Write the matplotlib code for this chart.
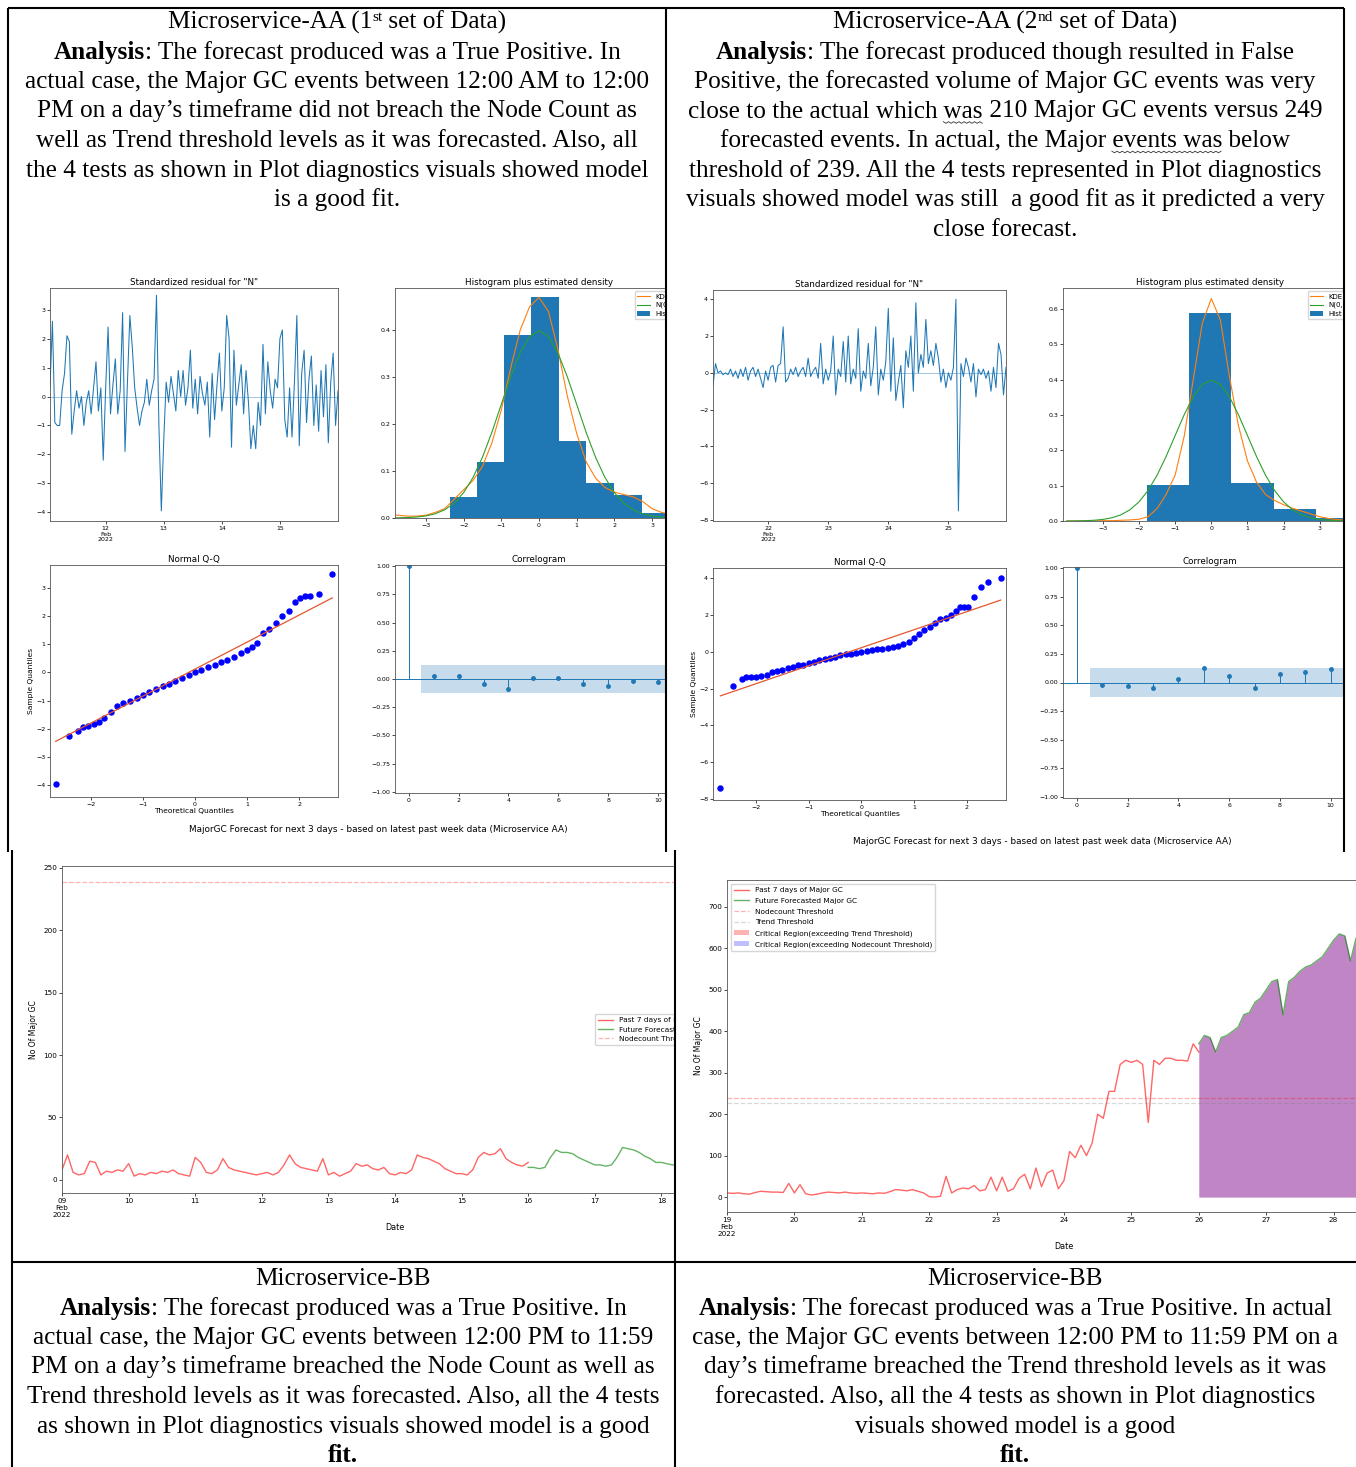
import matplotlib
matplotlib.use("Agg")
import matplotlib.pyplot as plt
import matplotlib.dates as mdates
from matplotlib.patches import Rectangle
import pandas as pd

W, H = 1356, 1467
SERIF = "Liberation Serif"
TXT = 18.2
plt.rcParams.update({"font.size": 5, "axes.linewidth": 0.6, "axes.edgecolor": "#555",
                     "xtick.major.size": 2, "ytick.major.size": 2,
                     "xtick.major.width": 0.5, "ytick.major.width": 0.5,
                     "xtick.labelsize": 4.5, "ytick.labelsize": 4.5,
                     "xtick.major.pad": 1.5, "ytick.major.pad": 1.5})

# ---------------- data ----------------
# standardized residuals, hourly
res1_start = "2022-02-11 01:00"
res1 = [0.3, 2.6, -0.9, -1.0, -1.0, 0.2, 0.8, 2.1, 1.9, -1.3, -0.5, 0.2, -0.4, 0.0, -1.0, -0.2,
        0.2, -0.6, 0.3, 1.2, -0.5, 0.3, -2.2, 0.3, 2.4, -0.6, 0.4, 1.3, -0.6, 0.2, 2.9, -1.9,
        0.5, 2.8, 1.7, 0.3, -0.4, -1.0, -0.5, -0.2, 0.6, -0.3, 0.2, 0.6, 3.5, -1.0, -3.95, -1.5,
        0.5, -0.2, 0.7, 0.1, -0.5, 0.9, 0.0, 0.9, -0.3, 0.3, 1.6, -0.4, 0.6, -0.6, 0.7, 0.1,
        -0.3, 0.5, -1.4, 0.8, -0.8, 0.4, 1.5, -0.5, 0.3, 2.8, 2.0, -1.75, 1.6, -0.3, 0.4, 1.1,
        -0.6, 0.9, -0.2, -1.8, -1.0, -1.8, -0.2, -1.0, 1.8, -0.6, 1.2, 0.2, -0.4, 0.6, 0.3, 2.0,
        2.3, -0.8, -1.4, 0.3, -1.4, 0.5, 2.8, -1.7, 0.8, 1.6, -0.9, 0.6, 1.4, -1.0, 0.4, -1.2,
        0.9, -0.7, 1.1, -1.6, 0.5, 1.5, -1.0, 0.2]
res2_start = "2022-02-21 02:00"
res2 = [-0.7, 0.5, 0.0, 0.1, -0.1, 0.0, -0.1, 0.2, -0.2, 0.1, -0.3, 0.2, -0.2, 0.3, -0.4, 0.1,
        0.3, -0.2, 0.2, -0.3, -0.8, 0.1, -0.4, 0.3, 0.4, -0.5, 0.4, 0.5, 2.5, -0.5, -0.3, 0.2,
        -0.1, 0.3, -0.2, 0.1, 0.3, -0.2, 0.8, -0.2, 0.1, 0.3, -0.3, 1.6, -0.6, 0.2, -0.4, 0.1,
        2.0, -1.2, 0.2, -0.2, 1.7, -0.5, 2.0, -0.6, 0.2, -0.3, 2.4, -1.0, 0.1, -0.3, 1.6, -0.7,
        0.3, 2.5, -1.2, 0.2, -0.4, 0.6, 3.5, -1.0, 1.9, -1.5, -0.5, 0.4, -1.9, 1.2, 0.3, 2.0,
        -1.0, 3.8, 0.0, 1.0, 0.3, 2.9, 0.5, 1.2, 0.4, 1.6, 0.8, -0.5, 0.2, -0.8, 0.0, -0.4,
        0.3, 4.0, -7.5, 0.5, -0.2, 0.8, 0.3, -0.5, 0.5, -1.3, 0.2, -0.1, 0.2, -0.3, 0.1, -1.0,
        0.3, -0.8, 1.6, 1.0, -1.2, 0.3]

# histogram bins (edges) and densities
hist1_edges = [-2.37, -1.65, -0.93, -0.2, 0.53, 1.25, 1.99, 2.72, 3.45]
hist1_dens = [0.045, 0.12, 0.39, 0.47, 0.165, 0.075, 0.05, 0.01]
hist2_edges = [-1.77, -0.62, 0.55, 1.72, 2.9, 4.07]
hist2_dens = [0.103, 0.59, 0.108, 0.035, 0.008]

dens_x = [-4.0, -3.75, -3.5, -3.25, -3.0, -2.75, -2.5, -2.25, -2.0, -1.75, -1.5, -1.25, -1.0,
          -0.75, -0.5, -0.25, 0.0, 0.25, 0.5, 0.75, 1.0, 1.25, 1.5, 1.75, 2.0, 2.25, 2.5, 2.75,
          3.0, 3.25, 3.5, 3.75, 4.0]
norm_y = [0.0001, 0.0004, 0.0009, 0.0020, 0.0044, 0.0091, 0.0175, 0.0317, 0.0540, 0.0863,
          0.1295, 0.1826, 0.2420, 0.3011, 0.3521, 0.3867, 0.3989, 0.3867, 0.3521, 0.3011,
          0.2420, 0.1826, 0.1295, 0.0863, 0.0540, 0.0317, 0.0175, 0.0091, 0.0044, 0.0020,
          0.0009, 0.0004, 0.0001]
kde1_y = [0.006, 0.006, 0.004, 0.004, 0.006, 0.012, 0.02, 0.04, 0.06, 0.08, 0.11, 0.16, 0.23,
          0.32, 0.40, 0.45, 0.47, 0.44, 0.36, 0.26, 0.18, 0.12, 0.085, 0.065, 0.055, 0.05,
          0.045, 0.035, 0.02, 0.012, 0.008, 0.004, 0.002]
kde2_y = [0.0, 0.0, 0.0, 0.0, 0.001, 0.001, 0.002, 0.003, 0.005, 0.012, 0.035, 0.075, 0.13,
          0.24, 0.40, 0.56, 0.63, 0.57, 0.41, 0.27, 0.17, 0.11, 0.075, 0.058, 0.046, 0.036,
          0.028, 0.02, 0.012, 0.007, 0.004, 0.002, 0.001]

# normal Q-Q (theoretical, sample)
qq1_x = [-2.68, -2.42, -2.26, -2.15, -2.05, -1.95, -1.85, -1.75, -1.62, -1.5, -1.38, -1.25,
         -1.12, -1.0, -0.88, -0.75, -0.62, -0.5, -0.38, -0.25, -0.12, 0.0, 0.12, 0.25, 0.38,
         0.5, 0.62, 0.75, 0.88, 1.0, 1.1, 1.2, 1.3, 1.42, 1.55, 1.68, 1.8, 1.92, 2.02, 2.12,
         2.22, 2.38, 2.64]
qq1_y = [-3.95, -2.25, -2.1, -1.95, -1.9, -1.82, -1.75, -1.62, -1.42, -1.2, -1.1, -1.0, -0.9,
         -0.8, -0.7, -0.6, -0.5, -0.4, -0.3, -0.2, -0.1, 0.0, 0.08, 0.18, 0.28, 0.38, 0.45,
         0.55, 0.68, 0.8, 0.9, 1.05, 1.4, 1.55, 1.75, 2.0, 2.2, 2.5, 2.65, 2.7, 2.72, 2.8, 3.5]
qq1_line = ([-2.68, 2.64], [-2.45, 2.65])
qq2_x = [-2.68, -2.44, -2.27, -2.2, -2.1, -2.0, -1.9, -1.8, -1.7, -1.6, -1.5, -1.4, -1.3, -1.2,
         -1.1, -1.0, -0.9, -0.8, -0.7, -0.6, -0.5, -0.4, -0.3, -0.2, -0.1, 0.0, 0.1, 0.2, 0.3,
         0.4, 0.5, 0.6, 0.7, 0.8, 0.9, 1.0, 1.1, 1.2, 1.3, 1.4, 1.5, 1.6, 1.7, 1.8, 1.88, 1.95,
         2.02, 2.14, 2.28, 2.4, 2.65]
qq2_y = [-7.42, -1.86, -1.5, -1.4, -1.38, -1.35, -1.3, -1.25, -1.1, -1.05, -1.0, -0.9, -0.85,
         -0.75, -0.7, -0.62, -0.55, -0.45, -0.4, -0.33, -0.27, -0.2, -0.15, -0.12, -0.05, 0.0,
         0.03, 0.08, 0.12, 0.17, 0.2, 0.25, 0.3, 0.4, 0.55, 0.75, 0.95, 1.15, 1.35, 1.55, 1.75,
         1.85, 2.0, 2.2, 2.4, 2.45, 2.45, 2.95, 3.5, 3.8, 4.0]
qq2_line = ([-2.68, 2.65], [-2.4, 2.8])

# correlogram
lags = list(range(11))
acf1 = [1.0, 0.03, 0.03, -0.04, -0.09, 0.01, 0.01, -0.04, -0.06, -0.02, -0.03]
acf2 = [1.0, -0.02, -0.03, -0.05, 0.03, 0.13, 0.06, -0.05, 0.07, 0.09, 0.12]
conf1, conf2 = 0.12, 0.13

# Microservice-BB Major GC counts, 2-hourly
bb1_past_start, bb1_fc_start = "2022-02-09 00:00", "2022-02-16 00:00"
bb1_past = [8, 20, 6, 4, 5, 15, 14, 4, 7, 6, 8, 7,
            13, 3, 5, 4, 6, 5, 7, 6, 8, 5, 4, 3,
            18, 14, 6, 5, 8, 17, 10, 8, 7, 6, 5, 4,
            5, 6, 4, 6, 12, 20, 13, 10, 9, 8, 7, 17,
            4, 6, 3, 5, 7, 13, 11, 12, 9, 8, 10, 5,
            4, 6, 5, 8, 20, 18, 17, 15, 13, 9, 7, 5,
            5, 4, 8, 18, 22, 20, 21, 25, 17, 14, 12, 11, 14]
bb1_fc = [10, 10, 9, 10, 18, 24, 22, 22, 21, 18, 16, 14,
          12, 12, 11, 12, 18, 26, 25, 24, 22, 19, 17, 14,
          14, 13, 12, 12, 18, 24, 23, 22, 20, 17, 15, 13, 12]
bb1_node = 239

bb2_past_start, bb2_fc_start = "2022-02-19 00:00", "2022-02-26 00:00"
bb2_past = [10, 9, 10, 8, 7, 11, 14, 13, 12, 12, 11, 33,
            10, 30, 8, 5, 7, 10, 12, 11, 10, 12, 10, 9,
            10, 9, 8, 10, 9, 13, 18, 17, 15, 18, 14, 10,
            1, 0, 2, 50, 10, 18, 22, 20, 28, 15, 18, 48,
            15, 48, 14, 20, 45, 55, 20, 70, 25, 58, 65, 20,
            40, 110, 95, 125, 100, 130, 200, 190, 255, 255, 320, 330,
            325, 330, 320, 180, 330, 320, 335, 335, 330, 330, 328, 370, 350]
bb2_fc = [370, 390, 385, 350, 385, 390, 400, 410, 440, 445, 470, 480,
          500, 520, 525, 440, 520, 530, 545, 555, 560, 570, 580, 600,
          620, 635, 630, 570, 625, 630, 640, 650, 655, 660, 665, 670, 675]
bb2_node, bb2_trend = 239, 228

CAPTION = "MajorGC Forecast for next 3 days - based on latest past week data (Microservice AA)"

fig = plt.figure(figsize=(W / 100, H / 100), dpi=100)


def pax(l, t, r, b, z):
    ax = fig.add_axes([l / W, 1 - b / H, (r - l) / W, (b - t) / H])
    ax.set_zorder(z)
    return ax


def cover(l, t, r, b, z):
    fig.add_artist(Rectangle((l / W, 1 - b / H), (r - l) / W, (b - t) / H,
                             transform=fig.transFigure, fc="white", ec="none", zorder=z))


def hours(start, n, step="h"):
    return mdates.date2num(pd.date_range(start, periods=n, freq=step).to_pydatetime())


def day_ticks(ax, days, month="Feb"):
    ax.set_xticks([mdates.datestr2num(f"2022-02-{d:02d}") for d in days])
    ax.set_xticklabels([f"{days[0]:02d}\n{month}\n2022"] + [f"{d:02d}" for d in days[1:]])


def resid(box, start, vals, days, ylim, yt):
    ax = pax(*box)
    x = hours(start, len(vals))
    ax.plot(x, vals, color="C0", lw=0.75)
    ax.hlines(0, x[0], x[-1], color="C0", alpha=0.5, lw=0.6)
    ax.set_xlim(x[0], x[-1])
    ax.set_ylim(*ylim); ax.set_yticks(yt)
    day_ticks(ax, days)
    ax.set_title('Standardized residual for "N"', fontsize=6.3, pad=2)


def hist(box, edges, dens, kde, xlim, ylim, yt):
    ax = pax(*box)
    ax.bar(edges[:-1], dens, width=[b - a for a, b in zip(edges[:-1], edges[1:])],
           align="edge", color="C0", label="Hist")
    ax.plot(dens_x, kde, color="C1", lw=0.8, label="KDE")
    ax.plot(dens_x, norm_y, color="C2", lw=0.8, label="N(0,1)")
    ax.set_xlim(*xlim); ax.set_ylim(*ylim); ax.set_yticks(yt)
    ax.set_xticks([-3, -2, -1, 0, 1, 2, 3])
    ax.legend(loc="upper right", fontsize=5, handlelength=1.8, borderpad=0.35,
              labelspacing=0.3)
    ax.set_title("Histogram plus estimated density", fontsize=6.3, pad=2)


def qq(box, xs, ys, line, xlim, ylim, yt):
    ax = pax(*box)
    ax.plot(xs, ys, "o", color="blue", ms=3.6)
    ax.plot(*line, color="#e4572e", lw=0.9)
    ax.set_xlim(*xlim); ax.set_ylim(*ylim); ax.set_yticks(yt)
    ax.set_xticks([-2, -1, 0, 1, 2])
    ax.set_xlabel("Theoretical Quantiles", fontsize=5.4, labelpad=1)
    ax.set_ylabel("Sample Quantiles", fontsize=5.4, labelpad=1)
    ax.set_title("Normal Q-Q", fontsize=6.3, pad=2)


def correlogram(box, vals, conf):
    ax = pax(*box)
    ax.fill_between([0.5, 11.5], -conf, conf, color="C0", alpha=0.25, lw=0)
    ax.axhline(0, color="C0", lw=0.7)
    ax.vlines(lags, 0, vals, color="C0", lw=0.7)
    ax.plot(lags, vals, "o", color="C0", ms=2.5)
    ax.set_xlim(-0.55, 11); ax.set_ylim(-1.01, 1.01)
    ax.set_yticks([-1, -0.75, -0.5, -0.25, 0, 0.25, 0.5, 0.75, 1.0])
    ax.set_yticklabels(["\u22121.00", "\u22120.75", "\u22120.50", "\u22120.25", "0.00",
                        "0.25", "0.50", "0.75", "1.00"])
    ax.set_xticks([0, 2, 4, 6, 8, 10])
    ax.set_title("Correlogram", fontsize=6.3, pad=2)


# ---- top-left: Microservice-AA 1st set (drawn first, overflow hidden by cover) ----
resid((50, 288, 338, 521, 1), res1_start, res1, [12, 13, 14, 15], (-4.3, 3.75), range(-4, 4))
hist((395, 288, 683, 518, 1), hist1_edges, hist1_dens, kde1_y, (-3.82, 3.82), (0, 0.49),
     [0, 0.1, 0.2, 0.3, 0.4])
qq((50, 565, 338, 797, 1), qq1_x, qq1_y, qq1_line, (-2.79, 2.75), (-4.43, 3.82), range(-4, 4))
correlogram((395, 565, 683, 793, 1), acf1, conf1)
cover(667, 0, 1356, 850, 2)

# ---- top-right: Microservice-AA 2nd set ----
resid((713, 290, 1006, 521, 3), res2_start, res2, [22, 23, 24, 25], (-8.05, 4.5),
      [-8, -6, -4, -2, 0, 2, 4])
hist((1063, 288, 1356, 521, 3), hist2_edges, hist2_dens, kde2_y, (-4.1, 4.0), (0, 0.66),
     [0, 0.1, 0.2, 0.3, 0.4, 0.5, 0.6])
qq((713, 568, 1006, 800, 3), qq2_x, qq2_y, qq2_line, (-2.82, 2.75), (-8.05, 4.54),
   [-8, -6, -4, -2, 0, 2, 4])
correlogram((1063, 567, 1356, 798, 3), acf2, conf2)
cover(1345, 0, 1356, 852, 4)


# ---- bottom: Microservice-BB forecasts ----
def forecast(box, past_start, past, fc_start, fc, node, trend, days, ylim, yt, legend_loc,
             spacing, clip=None):
    ax = pax(*box)
    xp = hours(past_start, len(past), "2h")
    xf = hours(fc_start, len(fc), "2h")
    ax.plot(xp, past, color="red", alpha=0.6, lw=1.0, label="Past 7 days of Major GC")
    ax.plot(xf, fc, color="green", alpha=0.6, lw=1.0, label="Future Forecasted Major GC")
    ax.axhline(node, color="red", ls="--", alpha=0.3, lw=0.9, label="Nodecount Threshold")
    if trend is not None:
        ax.axhline(trend, color="gray", ls="--", alpha=0.3, lw=0.9, label="Trend Threshold")
        above_t = [v > trend for v in fc]
        above_n = [v > node for v in fc]
        ax.fill_between(xf, 0, fc, where=above_t, color="red", alpha=0.3, lw=0,
                        label="Critical Region(exceeding Trend Threshold)")
        ax.fill_between(xf, 0, fc, where=above_n, color="blue", alpha=0.25, lw=0,
                        label="Critical Region(exceeding Nodecount Threshold)")
    ax.set_xlim(xp[0], xf[-1])
    ax.set_ylim(*ylim); ax.set_yticks(yt)
    day_ticks(ax, days)
    ax.tick_params(labelsize=5.2)
    ax.set_xlabel("Date", fontsize=5.8)
    ax.set_ylabel("No Of Major GC", fontsize=5.5)
    leg = ax.legend(loc=legend_loc, fontsize=5.3, handlelength=2, borderpad=0.45,
                    labelspacing=spacing)
    if clip is not None:
        # the screenshot is cut at the cell edge: clip the legend there
        l, t, r, b = clip
        box_clip = Rectangle((l / W, 1 - b / H), (r - l) / W, (b - t) / H,
                             transform=fig.transFigure)
        leg.set_clip_path(box_clip)
        for a in [leg.legendPatch] + leg.get_texts() + leg.get_lines():
            a.set_clip_path(box_clip)
    return ax


forecast((62, 866, 728, 1193, 1), bb1_past_start, bb1_past, bb1_fc_start, bb1_fc, bb1_node,
         None, list(range(9, 19)), (-10.5, 251.5), [0, 50, 100, 150, 200, 250], "center right",
         0.45, clip=(12, 852, 675, 1262))
cover(676, 852, 1356, 1262, 2)
forecast((727, 880, 1401, 1212, 3), bb2_past_start, bb2_past, bb2_fc_start, bb2_fc, bb2_node,
         bb2_trend, list(range(19, 29)), (-36, 765), [0, 100, 200, 300, 400, 500, 600, 700],
         "upper left", 0.62)

# ---- overlay: table borders and document text ----
ov = fig.add_axes([0, 0, 1, 1])
ov.set_zorder(20)
ov.set_xlim(0, W); ov.set_ylim(H, 0); ov.axis("off")
for x0, y0, x1, y1 in [(8, 8, 1344, 8), (8, 8, 8, 852), (666, 8, 666, 852),
                       (1344, 8, 1344, 852), (12, 850, 12, H), (675, 850, 675, H),
                       (12, 1262, W, 1262)]:
    ov.plot([x0, x1], [y0, y1], color="black", lw=1.5, clip_on=False, solid_capstyle="butt")

ov.text(378, 829, CAPTION, ha="center", va="center", fontsize=6.4)
ov.text(1042, 841, CAPTION, ha="center", va="center", fontsize=6.4)

renderer = fig.canvas.get_renderer()


def rich(xc, yc, parts):
    ts = []
    for s, kw in parts:
        t = ov.text(0, yc + 7 + kw.get("dy", 0), s, ha="left", va="baseline", family=SERIF,
                    fontsize=kw.get("size", TXT), weight=kw.get("weight", "normal"))
        ts.append(t)
    widths = [t.get_window_extent(renderer).width for t in ts]
    x = xc - sum(widths) / 2
    for t, w, (s, kw) in zip(ts, widths, parts):
        t.set_x(x)
        if kw.get("wavy"):
            # spell-check squiggle under the word (skip the leading space)
            xs, ys, k, xx = [], [], 0, x + 6
            while xx <= x + w:
                xs.append(xx); ys.append(yc + 11.5 + (1.3 if k % 2 else -0.3))
                xx += 2.6; k += 1
            ov.plot(xs, ys, color="#333", lw=0.6)
        x += w


B = {"weight": "bold"}
N = {}
WV = {"wavy": True}
SUP = {"size": 11, "dy": -8}


def block(xc, y0, lines):
    for i, parts in enumerate(lines):
        rich(xc, y0 + i * 29.5, parts)


block(337, 22, [
    [("Microservice-AA (1", N), ("st", SUP), (" set of Data)", N)],
    [("Analysis", B), (": The forecast produced was a True Positive. In", N)],
    [("actual case, the Major GC events between 12:00 AM to 12:00", N)],
    [("PM on a day\u2019s timeframe did not breach the Node Count as", N)],
    [("well as Trend threshold levels as it was forecasted. Also, all", N)],
    [("the 4 tests as shown in Plot diagnostics visuals showed model", N)],
    [("is a good fit.", N)],
])
block(1005, 22, [
    [("Microservice-AA (2", N), ("nd", SUP), (" set of Data)", N)],
    [("Analysis", B), (": The forecast produced though resulted in False", N)],
    [("Positive, the forecasted volume of Major GC events was very", N)],
    [("close to the actual which", N), (" was", WV), (" 210 Major GC events versus 249", N)],
    [("forecasted events. In actual, the Major", N), (" events was", WV), (" below", N)],
    [("threshold of 239. All the 4 tests represented in Plot diagnostics", N)],
    [("visuals showed model was still  a good fit as it predicted a very", N)],
    [("close forecast.", N)],
])
block(343, 1278, [
    [("Microservice-BB", N)],
    [("Analysis", B), (": The forecast produced was a True Positive. In", N)],
    [("actual case, the Major GC events between 12:00 PM to 11:59", N)],
    [("PM on a day\u2019s timeframe breached the Node Count as well as", N)],
    [("Trend threshold levels as it was forecasted. Also, all the 4 tests", N)],
    [("as shown in Plot diagnostics visuals showed model is a good", N)],
    [("fit.", B)],
])
block(1015, 1278, [
    [("Microservice-BB", N)],
    [("Analysis", B), (": The forecast produced was a True Positive. In actual", N)],
    [("case, the Major GC events between 12:00 PM to 11:59 PM on a", N)],
    [("day\u2019s timeframe breached the Trend threshold levels as it was", N)],
    [("forecasted. Also, all the 4 tests as shown in Plot diagnostics", N)],
    [("visuals showed model is a good", N)],
    [("fit.", B)],
])

fig.savefig("out.png", dpi=100)
